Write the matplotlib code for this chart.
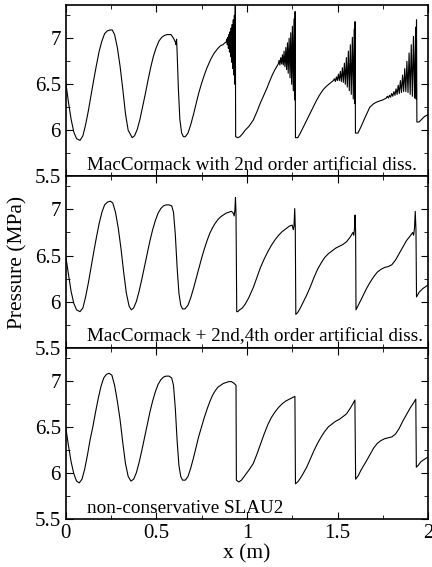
import matplotlib
matplotlib.use("Agg")
import matplotlib.pyplot as plt
from matplotlib.ticker import MultipleLocator, FormatStrFormatter

plt.rcParams['font.family'] = ['Liberation Serif', 'DejaVu Serif']

# Panel 1: MacCormack with 2nd order artificial dissipation
x_mc2 = [0.000, 0.015, 0.030, 0.045, 0.060, 0.079, 0.095, 0.110, 0.125, 0.140, 0.155,
         0.170, 0.185, 0.200, 0.215, 0.230, 0.245, 0.257, 0.270, 0.285, 0.300, 0.315,
         0.330, 0.345, 0.367, 0.380, 0.395, 0.410, 0.425, 0.440, 0.455, 0.470, 0.485,
         0.500, 0.515, 0.530, 0.545, 0.560, 0.581, 0.595, 0.605, 0.609, 0.612, 0.615,
         0.622, 0.630, 0.640, 0.650, 0.660, 0.675, 0.690, 0.705, 0.720, 0.735, 0.750,
         0.765, 0.780, 0.800, 0.820, 0.840, 0.855, 0.868, 0.878,
         # oscillation packet 1
         0.886, 0.889, 0.892, 0.895, 0.898, 0.901, 0.904, 0.907, 0.910, 0.913, 0.916,
         0.919, 0.922, 0.925, 0.928, 0.931, 0.934, 0.936, 0.938,
         0.950, 0.961, 0.975, 0.990, 1.010, 1.035, 1.055, 1.075, 1.095, 1.109, 1.125,
         1.140, 1.155, 1.164,
         # oscillation packet 2
         1.173, 1.178, 1.182, 1.187, 1.192, 1.196, 1.201, 1.205, 1.210, 1.215, 1.219,
         1.224, 1.228, 1.233, 1.238, 1.242, 1.247, 1.251, 1.256, 1.260, 1.263, 1.266,
         1.268, 1.281, 1.295, 1.310, 1.330, 1.348, 1.365, 1.383, 1.400, 1.420, 1.440,
         1.458,
         # oscillation packet 3
         1.477, 1.483, 1.488, 1.494, 1.499, 1.505, 1.510, 1.516, 1.521, 1.527, 1.532,
         1.538, 1.543, 1.549, 1.554, 1.560, 1.565, 1.571, 1.576, 1.582, 1.587, 1.592,
         1.595, 1.597, 1.599, 1.613, 1.630, 1.650, 1.678, 1.700, 1.720, 1.734, 1.750,
         # oscillation packet 4
         1.769, 1.775, 1.781, 1.787, 1.793, 1.799, 1.805, 1.811, 1.817, 1.823, 1.829,
         1.835, 1.841, 1.847, 1.853, 1.859, 1.865, 1.871, 1.877, 1.883, 1.889, 1.895,
         1.901, 1.907, 1.913, 1.919, 1.925, 1.931, 1.934, 1.936, 1.938,
         1.950, 1.965, 1.980, 2.000]
p_mc2 = [6.53, 6.31, 6.12, 5.98, 5.91, 5.89, 5.94, 6.06, 6.21, 6.38, 6.55,
         6.71, 6.86, 6.97, 7.05, 7.08, 7.09, 7.09, 7.04, 6.90, 6.70, 6.45,
         6.18, 6.00, 5.92, 5.94, 6.01, 6.12, 6.26, 6.40, 6.55, 6.69, 6.81,
         6.90, 6.97, 7.01, 7.03, 7.04, 7.04, 7.00, 6.96, 6.93, 6.99, 6.85,
         6.45, 6.12, 5.97, 5.93, 5.93, 5.97, 6.06, 6.17, 6.29, 6.41, 6.51,
         6.60, 6.68, 6.77, 6.84, 6.89, 6.92, 6.93, 6.95,
         6.96, 6.99, 6.93, 7.01, 6.89, 7.04, 6.85, 7.07, 6.80, 7.11, 6.74,
         7.15, 6.67, 7.20, 6.60, 7.25, 6.50, 7.45, 5.93,
         5.92, 5.93, 5.96, 6.00, 6.04, 6.11, 6.20, 6.30, 6.39, 6.45, 6.53,
         6.60, 6.66, 6.69,
         6.72, 6.76, 6.71, 6.79, 6.72, 6.82, 6.71, 6.86, 6.69, 6.90, 6.66,
         6.95, 6.62, 7.00, 6.57, 7.06, 6.50, 7.13, 6.43, 7.21, 6.33, 7.29,
         5.92, 5.92, 5.97, 6.03, 6.11, 6.18, 6.25, 6.32, 6.38, 6.44, 6.48,
         6.51,
         6.54, 6.56, 6.53, 6.58, 6.54, 6.61, 6.54, 6.64, 6.53, 6.68, 6.52,
         6.73, 6.50, 6.79, 6.47, 6.86, 6.43, 6.93, 6.39, 7.01, 6.34, 7.10,
         6.29, 7.18, 5.97, 5.97, 6.04, 6.13, 6.25, 6.29, 6.31, 6.32, 6.33,
         6.35, 6.37, 6.35, 6.38, 6.36, 6.40, 6.37, 6.42, 6.38, 6.45, 6.39,
         6.49, 6.40, 6.54, 6.41, 6.60, 6.42, 6.67, 6.42, 6.75, 6.41, 6.84,
         6.39, 6.93, 6.37, 7.02, 6.35, 7.12, 6.34, 7.20, 6.09,
         6.09, 6.12, 6.15, 6.17]

# Panel 2: MacCormack + 2nd,4th order artificial dissipation
x_mc24 = [0.000, 0.015, 0.030, 0.045, 0.060, 0.079, 0.095, 0.110, 0.125, 0.140, 0.155,
          0.170, 0.185, 0.200, 0.215, 0.230, 0.247, 0.260, 0.275, 0.290, 0.305, 0.320,
          0.335, 0.350, 0.362, 0.375, 0.390, 0.405, 0.420, 0.435, 0.450, 0.465, 0.480,
          0.495, 0.510, 0.525, 0.540, 0.555, 0.570, 0.585, 0.595, 0.605, 0.615, 0.625,
          0.635, 0.645, 0.658, 0.675, 0.690, 0.705, 0.720, 0.735, 0.750, 0.765, 0.780,
          0.795, 0.810, 0.825, 0.840, 0.855, 0.870, 0.885, 0.900, 0.915, 0.925, 0.930,
          0.934, 0.937, 0.940, 0.944, 0.950, 0.960, 0.975, 0.990, 1.010, 1.035, 1.055,
          1.075, 1.095, 1.115, 1.135, 1.155, 1.175, 1.195, 1.215, 1.235, 1.250, 1.256,
          1.260, 1.264, 1.267, 1.270, 1.280, 1.295, 1.310, 1.330, 1.350, 1.370, 1.390,
          1.410, 1.430, 1.450, 1.470, 1.490, 1.510, 1.530, 1.550, 1.570, 1.585, 1.590,
          1.594, 1.597, 1.600, 1.602, 1.615, 1.630, 1.645, 1.660, 1.680, 1.700, 1.720,
          1.740, 1.760, 1.780, 1.800, 1.820, 1.840, 1.860, 1.880, 1.900, 1.915, 1.920,
          1.925, 1.929, 1.933, 1.936, 1.950, 1.970, 1.985, 2.000]
p_mc24 = [6.50, 6.30, 6.11, 5.98, 5.91, 5.89, 5.93, 6.05, 6.20, 6.37, 6.54,
          6.70, 6.85, 6.97, 7.05, 7.08, 7.09, 7.07, 6.97, 6.80, 6.58, 6.32,
          6.09, 5.95, 5.91, 5.93, 6.00, 6.11, 6.24, 6.38, 6.52, 6.66, 6.78,
          6.88, 6.96, 7.01, 7.04, 7.05, 7.05, 7.04, 6.97, 6.73, 6.37, 6.09,
          5.96, 5.92, 5.92, 5.96, 6.04, 6.14, 6.25, 6.36, 6.47, 6.57, 6.66,
          6.74, 6.80, 6.85, 6.89, 6.92, 6.94, 6.96, 6.97, 6.98, 6.96, 6.93,
          7.00, 7.13, 6.95, 5.89, 5.89, 5.91, 5.93, 5.97, 6.04, 6.15, 6.26,
          6.37, 6.46, 6.54, 6.61, 6.67, 6.72, 6.76, 6.79, 6.82, 6.83, 6.78,
          6.82, 7.01, 6.80, 5.86, 5.88, 5.93, 5.99, 6.07, 6.16, 6.26, 6.35,
          6.42, 6.48, 6.52, 6.55, 6.58, 6.60, 6.62, 6.65, 6.70, 6.75, 6.72,
          6.80, 6.94, 6.75, 5.91, 5.96, 6.02, 6.08, 6.14, 6.21, 6.27, 6.32,
          6.35, 6.37, 6.38, 6.40, 6.45, 6.52, 6.59, 6.66, 6.71, 6.75, 6.72,
          6.80, 6.98, 6.78, 6.05, 6.10, 6.14, 6.16, 6.18]

# Panel 3: non-conservative SLAU2
x_slau = [0.000, 0.015, 0.030, 0.045, 0.060, 0.075, 0.090, 0.105, 0.120, 0.135, 0.150,
          0.165, 0.180, 0.195, 0.210, 0.225, 0.240, 0.255, 0.270, 0.285, 0.300, 0.315,
          0.330, 0.345, 0.360, 0.375, 0.390, 0.405, 0.420, 0.435, 0.450, 0.465, 0.480,
          0.495, 0.510, 0.525, 0.540, 0.555, 0.570, 0.585, 0.595, 0.605, 0.615, 0.625,
          0.635, 0.645, 0.660, 0.675, 0.690, 0.705, 0.720, 0.735, 0.750, 0.765, 0.780,
          0.795, 0.810, 0.825, 0.840, 0.855, 0.870, 0.885, 0.900, 0.915, 0.930, 0.940,
          0.942, 0.955, 0.970, 0.985, 1.000, 1.015, 1.035, 1.055, 1.075, 1.095, 1.115,
          1.135, 1.155, 1.175, 1.195, 1.215, 1.235, 1.255, 1.265, 1.268, 1.280, 1.295,
          1.310, 1.330, 1.350, 1.370, 1.390, 1.410, 1.430, 1.450, 1.470, 1.490, 1.510,
          1.530, 1.550, 1.570, 1.585, 1.596, 1.600, 1.615, 1.630, 1.645, 1.660, 1.680,
          1.700, 1.720, 1.740, 1.760, 1.780, 1.800, 1.820, 1.840, 1.860, 1.880, 1.900,
          1.920, 1.932, 1.935, 1.945, 1.960, 1.975, 1.990, 2.000]
p_slau = [6.50, 6.30, 6.12, 5.99, 5.91, 5.89, 5.93, 6.04, 6.19, 6.36, 6.50,
          6.66, 6.81, 6.94, 7.03, 7.07, 7.08, 7.06, 6.95, 6.78, 6.58, 6.33,
          6.10, 5.96, 5.91, 5.93, 6.00, 6.11, 6.24, 6.38, 6.52, 6.66, 6.78,
          6.88, 6.96, 7.01, 7.04, 7.05, 7.05, 7.03, 6.95, 6.70, 6.35, 6.08,
          5.96, 5.92, 5.92, 5.96, 6.05, 6.16, 6.28, 6.40, 6.50, 6.60, 6.69,
          6.77, 6.84, 6.89, 6.93, 6.95, 6.97, 6.98, 6.99, 6.99, 6.97, 6.95,
          5.92, 5.90, 5.92, 5.96, 6.00, 6.04, 6.10, 6.20, 6.31, 6.42, 6.52,
          6.60, 6.66, 6.71, 6.75, 6.78, 6.80, 6.82, 6.83, 5.88, 5.90, 5.94,
          5.99, 6.06, 6.15, 6.24, 6.32, 6.39, 6.45, 6.50, 6.53, 6.56, 6.58,
          6.61, 6.64, 6.70, 6.75, 6.79, 5.93, 5.97, 6.03, 6.08, 6.13, 6.20,
          6.27, 6.32, 6.35, 6.37, 6.38, 6.39, 6.42, 6.48, 6.56, 6.63, 6.70,
          6.76, 6.80, 6.06, 6.08, 6.12, 6.14, 6.16, 6.17]

labels = ["MacCormack with 2nd order artificial diss.",
          "MacCormack + 2nd,4th order artificial diss.",
          "non-conservative SLAU2"]

fig, axes = plt.subplots(3, 1, figsize=(4.32, 5.67), dpi=100, sharex=True)
fig.subplots_adjust(left=0.152, right=0.991, top=0.991, bottom=0.085, hspace=0)

data = [(x_mc2, p_mc2), (x_mc24, p_mc24), (x_slau, p_slau)]
for ax, (x, p), label in zip(axes, data, labels):
    ax.plot(x, p, color='black', lw=0.8)
    ax.set_xlim(0, 2)
    ax.set_ylim(5.5, 7.36)
    ax.xaxis.set_major_locator(MultipleLocator(0.5))
    ax.xaxis.set_minor_locator(MultipleLocator(0.25))
    ax.yaxis.set_major_locator(MultipleLocator(0.5))
    ax.yaxis.set_minor_locator(MultipleLocator(0.25))
    ax.yaxis.set_major_formatter(FormatStrFormatter('%g'))
    ax.xaxis.set_major_formatter(FormatStrFormatter('%g'))
    ax.tick_params(which='both', direction='in', top=True, right=True, labelsize=15)
    ax.tick_params(which='major', length=5, width=0.8)
    ax.tick_params(which='minor', length=3, width=0.6)
    for s in ax.spines.values():
        s.set_linewidth(1.2)
    ax.text(0.058, 0.035, label, transform=ax.transAxes, fontsize=13.8, va='baseline')

axes[1].set_ylabel("Pressure (MPa)", fontsize=15.5)
axes[1].yaxis.set_label_coords(-0.105, 0.5)
axes[2].set_xlabel("x (m)", fontsize=15.5)
axes[2].xaxis.set_label_coords(0.5, -0.15)

plt.savefig("out.png", dpi=100)
